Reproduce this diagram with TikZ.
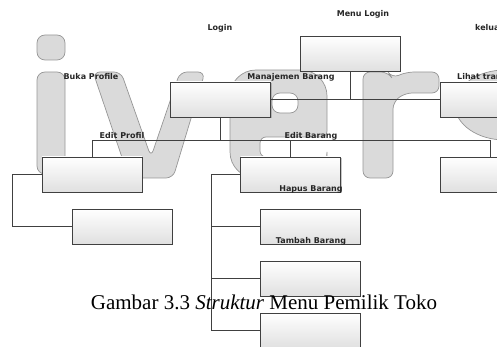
\documentclass[tikz,border=0pt]{standalone}
\usepackage{fontspec}
\setmainfont{Liberation Serif}
\newfontfamily\lblfont{DejaVu Sans}
\usetikzlibrary{shadows}
\definecolor{ColLine}{RGB}{64,64,64}
\definecolor{ColBox}{RGB}{224,224,224}
\definecolor{ColWm}{RGB}{218,218,218}
\definecolor{ColWmEdge}{RGB}{150,150,150}
\tikzstyle{BoxMenu}=[rectangle,draw=ColLine,line width=.8pt,minimum width=100pt,minimum height=35pt,
inner sep=0pt,top color=white,bottom color=ColBox,drop shadow={shadow xshift=1pt,shadow yshift=-1pt,opacity=.45,fill=gray}]
\tikzstyle{EdgeMenu}=[ColLine,line width=.8pt]
\tikzstyle{LabelMenu}=[inner sep=0pt,font=\lblfont\bfseries\fontsize{8}{9}\selectfont,text=black!85]
\tikzstyle{WaterMark}=[fill=ColWm,draw=ColWmEdge,line width=.7pt]
\begin{document}
\begin{tikzpicture}[x=1pt,y=-1pt]
        \useasboundingbox(0,0)rectangle(497,347);
        \clip(0,0)rectangle(497,347);
        \path[WaterMark,rounded corners=8pt](37,35)rectangle(65,60);
        \path[WaterMark,rounded corners=8pt](37,72)rectangle(65,174);
        \path[WaterMark,rounded corners=7pt](93,72)--(121,72)--(151,157)--(180,72)--(205,72)--(173,178)--(129,178)--cycle;
        \path[WaterMark,even odd rule](260,137)[rounded corners=6pt]--(327,137)[rounded corners=26pt]--(327,70)--(230,70)--(230,178)--(327,178)[rounded corners=6pt]--(327,157)--(260,157)--cycle
            [rounded corners=8pt](272,93)rectangle(298,113);
        \path[WaterMark,rounded corners=7pt](363,178)--(363,72)--(388,72)--(392,78)--(407,72)--(439,72)--(439,93)--(405,93)--(393,102)--(393,178)--cycle;
        \path[WaterMark](505,105)ellipse[x radius=50,y radius=35];
        \node[BoxMenu](menuLogin)at(350,53.5){};
        \node[BoxMenu](manajemen)at(220.5,99.5){};
        \node[BoxMenu](lihat)at(490,99.5){};
        \node[BoxMenu](editProfil)at(92,174.5){};
        \node[BoxMenu](editBarang)at(290.5,174.5){};
        \node[BoxMenu](transaksi)at(490,174.5){};
        \node[BoxMenu](profilSub)at(122,226.5){};
        \node[BoxMenu](barangB)at(310,226.5){};
        \node[BoxMenu](barangC)at(310,278.5){};
        \node[BoxMenu](barangD)at(310,330.5){};
        \coordinate(busY)at(0,140);
        \coordinate(leftRail)at(12,0);
        \coordinate(midRail)at(211,0);
        \draw[EdgeMenu](manajemen.east)--(lihat.west);
        \draw[EdgeMenu](menuLogin.south)--(menuLogin.south|-lihat.west);
        \draw[EdgeMenu](manajemen.south)--(manajemen.south|-busY);
        \draw[EdgeMenu](editProfil.north)|-(transaksi.north|-busY)--(transaksi.north);
        \draw[EdgeMenu](editBarang.north)--(editBarang.north|-busY);
        \draw[EdgeMenu](editProfil.west)--(editProfil.west-|leftRail)|-(profilSub.west);
        \draw[EdgeMenu](editBarang.west)--(editBarang.west-|midRail)|-(barangD.west);
        \draw[EdgeMenu](midRail|-barangB.west)--(barangB.west);
        \draw[EdgeMenu](midRail|-barangC.west)--(barangC.west);
        \node[LabelMenu](loginLbl)at(220,28){Login};
        \node[LabelMenu](menuLoginLbl)at(363,14){Menu Login};
        \node[LabelMenu,anchor=west](keluarLbl)at(475,28){keluar};
        \node[LabelMenu](bukaLbl)at(91,77){Buka Profile};
        \node[LabelMenu](manajemenLbl)at(291,77){Manajemen Barang};
        \node[LabelMenu,anchor=west](lihatLbl)at(457,77){Lihat transaksi};
        \node[LabelMenu](editProfilLbl)at(122,136){Edit Profil};
        \node[LabelMenu](editBarangLbl)at(311,136){Edit Barang};
        \node[LabelMenu](hapusLbl)at(311,189){Hapus Barang};
        \node[LabelMenu](tambahLbl)at(311,241){Tambah Barang};
        \node[inner sep=0pt,font=\fontsize{21}{24}\selectfont](caption)at(264,302){Gambar 3.3 \textit{Struktur} Menu Pemilik Toko};
    \end{tikzpicture}
\end{document}
